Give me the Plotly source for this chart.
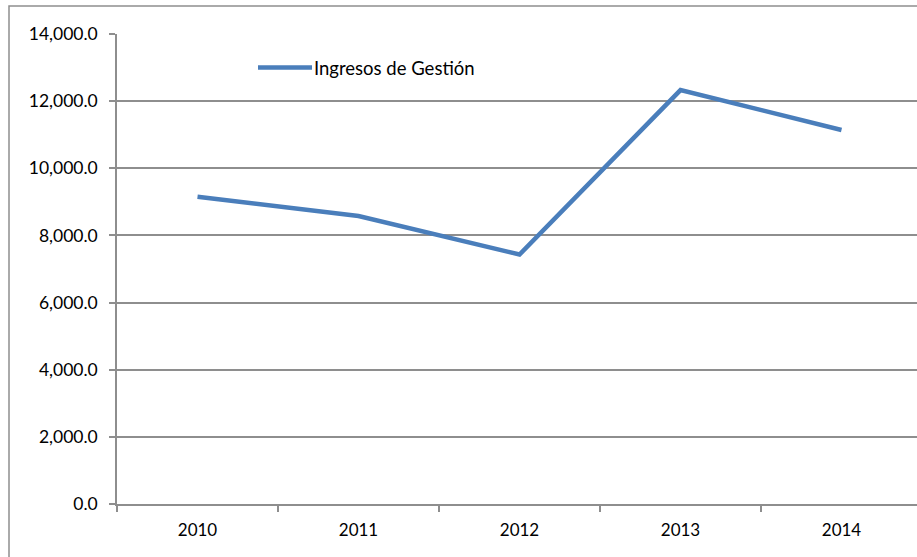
import plotly.graph_objects as go

# Annual management income
years = ["2010", "2011", "2012", "2013", "2014"]
ingresos = [9150, 8580, 7430, 12330, 11140]
series_name = "Ingresos de Gestión"
y_ticks = [0, 2000, 4000, 6000, 8000, 10000, 12000, 14000]

LINE_BLUE = "#4a7ebb"
GRID_GRAY = "#8e8e8e"
FONT = "Lato"

fig = go.Figure()
fig.add_trace(go.Scatter(
    x=years, y=ingresos, mode="lines", name=series_name,
    line=dict(color=LINE_BLUE, width=4.5), showlegend=False,
))

W, H = 917, 557
L, T, B = 117, 34, 53
plot_w = W - L
plot_h = H - T - B
cat_w = 161  # pixel width of one category slot


def px_x(px):
    return (px - L) / plot_w


def px_y(py):
    return (H - B - py) / plot_h


fig.update_layout(
    width=W, height=H,
    margin=dict(l=L, r=0, t=T, b=B),
    paper_bgcolor="white", plot_bgcolor="white",
    font=dict(family=FONT, size=17, color="#000000"),
    xaxis=dict(
        type="category", range=[-0.5, -0.5 + plot_w / cat_w],
        tickson="boundaries", ticks="outside", ticklen=6, tickcolor=GRID_GRAY,
        tickwidth=1.5, showline=True, linecolor=GRID_GRAY, linewidth=1.5,
        showgrid=False, tickfont=dict(size=17), ticklabelstandoff=10,
    ),
    yaxis=dict(
        range=[0, 14000], tickvals=y_ticks,
        ticktext=[f"{v:,.1f}" for v in y_ticks],
        ticks="outside", ticklen=6, tickcolor=GRID_GRAY, tickwidth=1.5,
        showline=True, linecolor=GRID_GRAY, linewidth=1.5,
        showgrid=True, gridcolor=GRID_GRAY, gridwidth=1.5,
        zeroline=False, tickfont=dict(size=17.5), ticklabelstandoff=8,
    ),
    shapes=[
        # chart frame
        dict(type="rect", xref="paper", yref="paper",
             x0=px_x(9), x1=px_x(W + 10), y0=px_y(H + 10), y1=px_y(6),
             line=dict(color=GRID_GRAY, width=1.5), layer="below"),
        # legend sample line
        dict(type="line", xref="paper", yref="paper",
             x0=px_x(258), x1=px_x(312), y0=px_y(67.5), y1=px_y(67.5),
             line=dict(color=LINE_BLUE, width=4.5)),
    ],
    annotations=[
        dict(text=series_name, xref="paper", yref="paper",
             x=px_x(312), y=px_y(68), xanchor="left", yanchor="middle",
             showarrow=False, font=dict(size=18.5)),
    ],
)

fig.write_html("out.html")
